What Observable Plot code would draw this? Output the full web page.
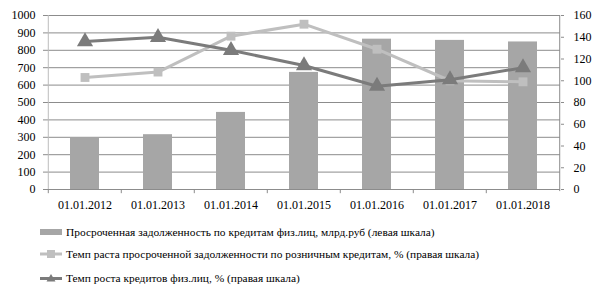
<!DOCTYPE html>
<html><head><meta charset="utf-8">
<script src="https://cdn.jsdelivr.net/npm/d3@7"></script>
<script src="https://cdn.jsdelivr.net/npm/@observablehq/plot@0.6"></script>
</head>
<body style="margin:0;background:#fff;font-family:'Liberation Serif'">
<div id="chart"></div>
<div style="position:relative;height:80px;font-size:11.4px;line-height:14px;color:#000">
<div style="position:absolute;left:40px;top:10px;display:flex;align-items:center;white-space:nowrap"><svg width="22" height="10" style="margin-right:4px"><rect x="0" y="2" width="22" height="6" fill="#a6a6a6"/></svg><span id="l0"></span></div>
<div style="position:absolute;left:40px;top:32px;display:flex;align-items:center;white-space:nowrap"><svg width="22" height="10" style="margin-right:4px"><line x1="0" y1="5" x2="22" y2="5" stroke="#bfbfbf" stroke-width="3"/><rect x="7" y="1" width="8" height="8" fill="#bfbfbf"/></svg><span id="l1"></span></div>
<div style="position:absolute;left:40px;top:56px;display:flex;align-items:center;white-space:nowrap"><svg width="22" height="10" style="margin-right:4px"><line x1="0" y1="5.5" x2="22" y2="5.5" stroke="#7b7b7b" stroke-width="3"/><path d="M11,1 L15.5,8.5 L6.5,8.5Z" fill="#7b7b7b"/></svg><span id="l2"></span></div>
</div>
<script>
const dates = ["01.01.2012","01.01.2013","01.01.2014","01.01.2015","01.01.2016","01.01.2017","01.01.2018"];
const overdueDebt = [295, 315, 443, 673, 864, 857, 848];
const overdueGrowth = [103, 108, 141, 152, 129, 100, 99];
const loanGrowth = [136, 140, 128, 114, 95, 101, 112];
const leftTicks = [0,100,200,300,400,500,600,700,800,900,1000];
const rightTicks = [0,20,40,60,80,100,120,140,160];
const labels = [
  "Просроченная задолженность по кредитам физ.лиц, млрд.руб (левая шкала)",
  "Темп раста просроченной задолженности по розничным кредитам, % (правая шкала)",
  "Темп роста кредитов физ.лиц, % (правая шкала)"
];
labels.forEach((t,i)=>{ document.getElementById("l"+i).textContent = t; });

const k = 1000/160;
const rows = dates.map((d,i)=>({d, bar: overdueDebt[i], g1: overdueGrowth[i], g2: loanGrowth[i]}));

const W = 601, H = 215, mL = 46, mR = 41;
const bw = (W - mL - mR) / dates.length;
const BAR = "#a6a6a6", LIGHT = "#bfbfbf", DARK = "#7b7b7b", GRID = "#8c8c8c", AX = "#bcbcbc";

const chart = Plot.plot({
  width: W, height: H,
  marginTop: 15, marginBottom: 26, marginLeft: mL, marginRight: mR,
  style: {fontFamily: "'Liberation Serif'", fontSize: "12px", color: "#000", background: "#fff"},
  x: {type: "band", domain: dates, padding: 0},
  y: {domain: [0, 1000]},
  marks: [
    Plot.ruleY(leftTicks, {stroke: GRID, strokeWidth: 1}),
    Plot.axisY(leftTicks, {anchor: "left", tickSize: 3, tickPadding: 8, stroke: GRID, fill: "#000", label: null, tickFormat: d => String(d)}),
    Plot.axisY(rightTicks.map(v=>v*k), {anchor: "right", tickSize: 3, tickPadding: 10, stroke: GRID, fill: "#000", label: null, tickFormat: v => String(Math.round(v/k))}),
    Plot.barY(rows, {x: "d", y: "bar", fill: BAR, insetLeft: 22, insetRight: 22}),
    Plot.ruleX([dates[0]], {y1: 0, y2: 1000, dx: -bw/2, stroke: AX}),
    Plot.ruleX([dates[dates.length-1]], {y1: -12, y2: 1000, dx: bw/2, stroke: GRID}),
    Plot.ruleY([0], {stroke: GRID}),
    Plot.ruleX(dates, {y1: 0, y2: -24, dx: -bw/2, stroke: GRID}),
    Plot.line(rows, {x: "d", y: d => d.g1*k, stroke: LIGHT, strokeWidth: 3}),
    Plot.dot(rows, {x: "d", y: d => d.g1*k, symbol: "square", r: 5, fill: LIGHT, stroke: "none"}),
    Plot.line(rows, {x: "d", y: d => d.g2*k, stroke: DARK, strokeWidth: 3}),
    Plot.dot(rows, {x: "d", y: d => d.g2*k, symbol: "triangle", r: 6, fill: DARK, stroke: "none"}),
    Plot.axisX({anchor: "bottom", tickSize: 0, tickPadding: 11, fill: "#000", label: null})
  ]
});
chart.style.display = "block";
document.getElementById("chart").appendChild(chart);
</script>
</body></html>
